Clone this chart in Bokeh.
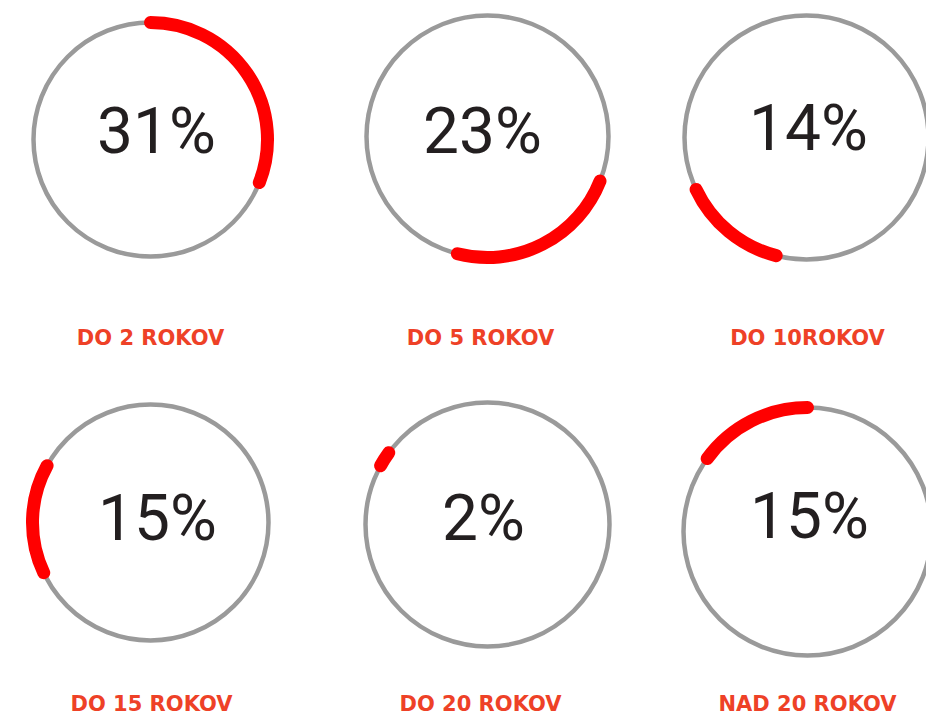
import math
from bokeh.plotting import figure
from bokeh.models import Range1d, ColumnDataSource
from bokeh.core.properties import value
from bokeh.embed import file_html
from bokeh.resources import INLINE

# ---- data ----
categories = ["DO 2 ROKOV", "DO 5 ROKOV", "DO 10ROKOV", "DO 15 ROKOV", "DO 20 ROKOV", "NAD 20 ROKOV"]
shares = [31, 23, 14, 15, 2, 15]
pct_labels = [f"{v}%" for v in shares]

# ---- layout (screen pixel positions of each gauge) ----
ring_cx = [150, 487, 806, 150, 487, 807]
ring_cy = [139, 136, 137, 522, 524, 531]
ring_r = [117, 121, 122, 118, 122, 124]
pct_cx = [156, 482, 808, 157, 483, 809]
pct_mid = [131, 131, 128, 518, 518, 516]
lab_cx = [150, 480, 807, 151, 480, 807]
lab_mid = [337, 337, 337, 703, 703, 703]

W, H = 926, 716


def sy(y):
    return H - y


# cumulative start of each arc around the ring
starts = []
acc = 0
for v in shares:
    starts.append(acc)
    acc += v

start_angle = [math.pi / 2 - 2 * math.pi * s / 100 for s in starts]
end_angle = [math.pi / 2 - 2 * math.pi * (s + v) / 100 for s, v in zip(starts, shares)]

src = ColumnDataSource(dict(
    cx=ring_cx, cy=[sy(y) for y in ring_cy], r=ring_r,
    a0=start_angle, a1=end_angle,
    px=pct_cx, py=[sy(y) for y in pct_mid], pct=pct_labels,
    lx=lab_cx, ly=[sy(y) for y in lab_mid], lab=categories,
))

p = figure(width=W, height=H, output_backend="svg", toolbar_location=None,
           x_range=Range1d(0, W), y_range=Range1d(0, H),
           min_border=0, outline_line_color=None)
p.axis.visible = False
p.grid.visible = False
p.background_fill_color = "white"
p.border_fill_color = "white"

p.circle(x="cx", y="cy", radius="r", source=src, fill_color=None,
         line_color="#9a9a9a", line_width=4.5)
p.arc(x="cx", y="cy", radius="r", start_angle="a0", end_angle="a1",
      direction="clock", source=src, line_color="#ff0000", line_width=13,
      line_cap="round")

p.text(x="px", y="py", text="pct", source=src, text_align="center",
       text_baseline="middle", text_color="#231f20",
       text_font=value("Roboto"), text_font_size="64px")
p.text(x="lx", y="ly", text="lab", source=src, text_align="center",
       text_baseline="middle", text_color="#ee4127",
       text_font=value("DejaVu Sans"), text_font_style="bold",
       text_font_size="21px")

open("out.html", "w").write(file_html(p, INLINE))
